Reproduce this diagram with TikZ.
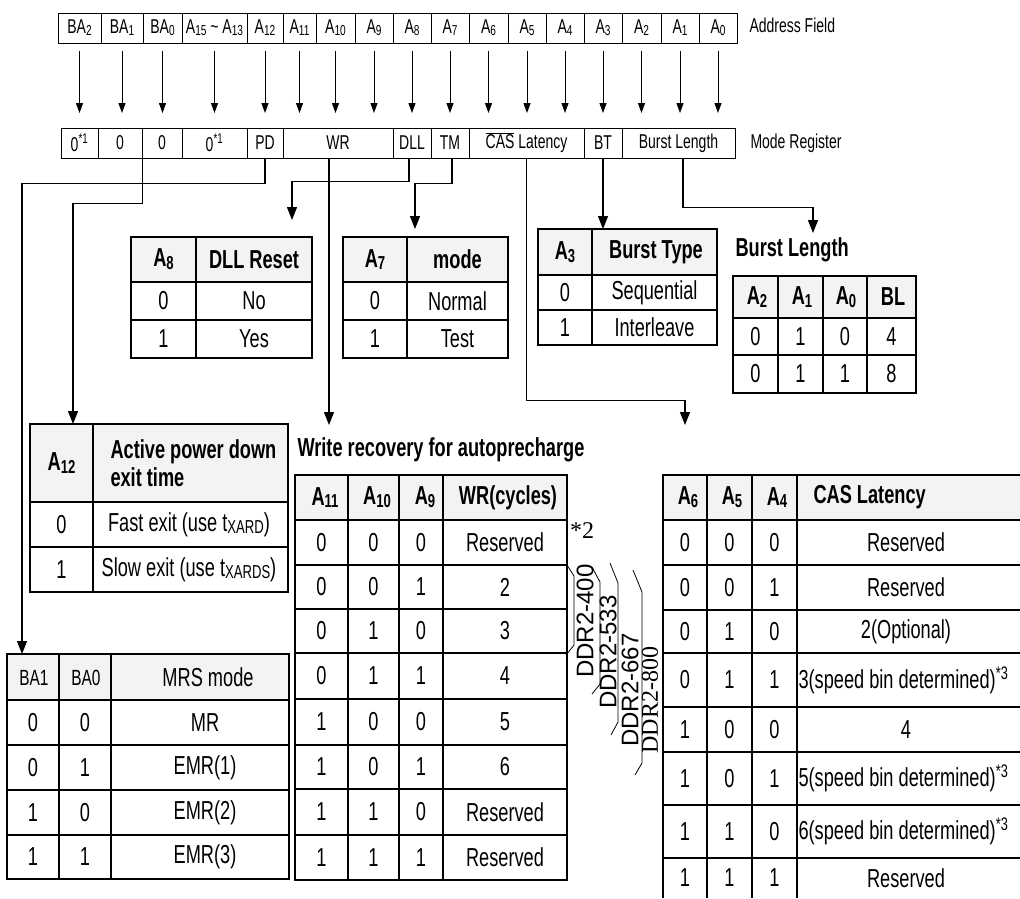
\documentclass[tikz,border=0pt]{standalone}
\usepackage{fontspec}
\setmainfont{Liberation Sans}[FakeStretch=0.70]
\newfontfamily\ddrfont{Liberation Sans}
\newfontfamily\ddrserif{Liberation Serif}
\usetikzlibrary{arrows.meta, positioning}
\definecolor{headfill}{RGB}{243, 243, 243}

% small index digits sitting near the baseline (A8, BA1, tXARD ...)
\newcommand{\lo}[1]{\raisebox{-0.2ex}{\scalebox{0.72}{#1}}}

\tikzset{
    reg/.style={draw, line width=1pt, inner sep=0pt, minimum height=30pt,
        font=\fontsize{20}{22}\selectfont},
    side/.style={anchor=west, inner sep=0pt, font=\fontsize{20}{22}\selectfont},
    tbl/.style={line width=1.3pt},
    cell/.style={inner sep=0pt, font=\fontsize{26}{28}\selectfont},
    hd/.style={inner sep=0pt, font=\fontsize{26}{28}\selectfont\bfseries},
    ddr/.style={rotate=90, inner sep=0pt, font=\ddrfont\fontsize{24}{26}\selectfont},
    bigarrow/.style={line width=1.2pt, -{Triangle[length=13pt, width=10pt]}},
}

\begin{document}
\begin{tikzpicture}[x=1pt, y=-1pt, line width=1pt, >={Triangle[length=10pt, width=7pt]}]

    \useasboundingbox (0,0) rectangle (1020,898);

    % ==========================================
    % --- Address field / mode register rows ---
    % ==========================================
    \foreach \nm/\xa/\xb/\txt in {ba2/58/101/BA\lo{2}, ba1/101/143/BA\lo{1}, ba0/143/182/BA\lo{0},
            ahi/182/247/{A\lo{15} \textasciitilde{} A\lo{13}}, a12/247/283/A\lo{12}, a11/283/316/A\lo{11},
            a10/316/355/A\lo{10}, a9/355/393/A\lo{9}, a8/393/431/A\lo{8}, a7/431/469/A\lo{7},
            a6/469/508/A\lo{6}, a5/508/546/A\lo{5}, a4/546/584/A\lo{4}, a3/584/622/A\lo{3},
            a2/622/661/A\lo{2}, a1/661/699/A\lo{1}, a0/699/737/A\lo{0}}
        \node[reg, minimum width={(\xb-\xa)*1pt}] (\nm) at ({(\xa+\xb)/2}, 28) {\txt};
    \node[side] (addrlbl) at (749, 25) {Address Field};

    \foreach \nm/\xa/\xb/\txt in {mr-ba2/61/98/{0\textsuperscript{*1}}, mr-ba1/98/142/0, mr-ba0/142/182/0,
            mr-ahi/182/247/{0\textsuperscript{*1}}, mr-pd/247/283/PD, mr-wr/283/393/WR,
            mr-dll/393/431/DLL, mr-tm/431/469/TM, mr-cas/469/584/{$\overline{\mbox{CAS}}$ Latency},
            mr-bt/584/622/BT, mr-bl/622/735/Burst Length}
        \node[reg, minimum width={(\xb-\xa)*1pt}] (\nm) at ({(\xa+\xb)/2}, 143) {\txt};
    \node[side] (modelbl) at (750, 143) {Mode Register};

    % one arrow per address bit
    \coordinate (mrtop) at (0, 128);
    \foreach \nm in {ba2, ba1, ba0, ahi, a12, a11, a10, a9, a8, a7, a6, a5, a4, a3, a2, a1, a0}
        \draw[->, shorten <=7pt, shorten >=15pt] (\nm.south) -- (\nm.south |- mrtop);

    % ==========================================
    % --- Connectors down to the tables ---
    % ==========================================
    \coordinate (mrs-in) at (22, 654);
    \coordinate (pd-in) at (73, 424);
    \coordinate (wr-in) at (329, 425);
    \coordinate (dll-in) at (292, 220);
    \coordinate (tm-in) at (415, 229);
    \coordinate (cas-in) at (685, 425);
    \coordinate (bt-in) at (603, 229);
    \coordinate (bl-in) at (813, 233);

    \draw[bigarrow] (mr-pd.south) -- ++(0,25) -| (mrs-in);
    \draw[bigarrow] (mr-ba1.south east) -- ++(0,45) -| (pd-in);
    \draw[bigarrow] ([xshift=-9pt]mr-wr.south) -- (wr-in);
    \draw[bigarrow] ([xshift=-3pt]mr-dll.south) -- ++(0,23) -| (dll-in);
    \draw[bigarrow] ([xshift=2pt]mr-tm.south) -- ++(0,25) -| (tm-in);
    \draw[bigarrow] (mr-cas.south) -- ++(0,242) -| (cas-in);
    \draw[bigarrow] (mr-bt.south) -- (bt-in);
    \draw[bigarrow] ([xshift=4.5pt]mr-bl.south) -- ++(0,49) -| (bl-in);

    % ==========================================
    % --- A8 : DLL reset ---
    % ==========================================
    \fill[headfill] (131,237) rectangle (312,282);
    \draw[tbl] (131,237) rectangle (312,358);
    \foreach \y in {282, 320} \draw[tbl] (131,\y) -- (312,\y);
    \draw[tbl] (196,237) -- (196,358);
    \node[hd] (dll-h1) at (163.5,259.5) {A\lo{8}};
    \node[hd] (dll-h2) at (254,259.5) {DLL Reset};
    \foreach \yc/\a/\b [count=\i] in {301/0/No, 339/1/Yes} {
        \node[cell] (dll-\i-a) at (163.5,\yc) {\a};
        \node[cell] (dll-\i-b) at (254,\yc) {\b};
    }

    % --- A7 : test mode ---
    \fill[headfill] (343,237) rectangle (508,282);
    \draw[tbl] (343,237) rectangle (508,358);
    \foreach \y in {282, 320} \draw[tbl] (343,\y) -- (508,\y);
    \draw[tbl] (407,237) -- (407,358);
    \node[hd] (tm-h1) at (375,259.5) {A\lo{7}};
    \node[hd] (tm-h2) at (457.5,259.5) {mode};
    \foreach \yc/\a/\b [count=\i] in {301/0/Normal, 339/1/Test} {
        \node[cell] (tm-\i-a) at (375,\yc) {\a};
        \node[cell] (tm-\i-b) at (457.5,\yc) {\b};
    }

    % --- A3 : burst type ---
    \fill[headfill] (538,229) rectangle (717,275);
    \draw[tbl] (538,229) rectangle (717,345);
    \foreach \y in {275, 310} \draw[tbl] (538,\y) -- (717,\y);
    \draw[tbl] (592,229) -- (592,345);
    \node[hd] (bt-h1) at (565,252) {A\lo{3}};
    \node[hd] (bt-h2) at (656,252) {Burst Type};
    \foreach \yc/\a/\b [count=\i] in {292.5/0/Sequential, 327.5/1/Interleave} {
        \node[cell] (bt-\i-a) at (565,\yc) {\a};
        \node[cell] (bt-\i-b) at (654.5,\yc) {\b};
    }

    % --- A2..A0 : burst length ---
    \node[hd, anchor=west] (bl-title) at (735,250) {Burst Length};
    \fill[headfill] (733,276) rectangle (916,318);
    \draw[tbl] (733,276) rectangle (916,393);
    \foreach \y in {318, 355} \draw[tbl] (733,\y) -- (916,\y);
    \foreach \x in {778, 823, 867} \draw[tbl] (\x,276) -- (\x,393);
    \foreach \xc/\txt [count=\i] in {757/A\lo{2}, 802/A\lo{1}, 846/A\lo{0}, 893/BL}
        \node[hd] (bl-h\i) at (\xc,297) {\txt};
    \foreach \yc/\a/\b/\c/\d [count=\i] in {336.5/0/1/0/4, 374/0/1/1/8} {
        \node[cell] (bl-\i-a) at (755.5,\yc) {\a};
        \node[cell] (bl-\i-b) at (800.5,\yc) {\b};
        \node[cell] (bl-\i-c) at (845,\yc) {\c};
        \node[cell] (bl-\i-d) at (891.5,\yc) {\d};
    }

    % ==========================================
    % --- A12 : power down exit ---
    % ==========================================
    \fill[headfill] (30,424) rectangle (288,502);
    \draw[tbl] (30,424) rectangle (288,592);
    \foreach \y in {502, 547} \draw[tbl] (30,\y) -- (288,\y);
    \draw[tbl] (93,424) -- (93,592);
    \node[hd] (pd-h1) at (61.5,463) {A\lo{12}};
    \node[hd, anchor=west, align=left] (pd-h2) at (110,463) {Active power down\\exit time};
    \foreach \yc/\a/\b [count=\i] in {524.5/0/{Fast exit (use t\lo{XARD})}, 569.5/1/{Slow exit (use t\lo{XARDS})}} {
        \node[cell] (pd-\i-a) at (61.5,\yc) {\a};
        \node[cell] (pd-\i-b) at (189,\yc) {\b};
    }

    % --- BA1, BA0 : register select ---
    \fill[headfill] (7,654) rectangle (289,700);
    \draw[tbl] (7,654) rectangle (289,879);
    \foreach \y in {700, 745, 790, 835} \draw[tbl] (7,\y) -- (289,\y);
    \foreach \x in {59, 111} \draw[tbl] (\x,654) -- (\x,879);
    \node[cell, font=\fontsize{22}{24}\selectfont] (mrs-h1) at (34,678) {BA1};
    \node[cell, font=\fontsize{22}{24}\selectfont] (mrs-h2) at (86,678) {BA0};
    \node[cell] (mrs-h3) at (208,677) {MRS mode};
    \foreach \yc/\a/\b/\c [count=\i] in {722.5/0/0/MR, 767.5/0/1/EMR(1), 812.5/1/0/EMR(2), 857/1/1/EMR(3)} {
        \node[cell] (mrs-\i-a) at (33,\yc) {\a};
        \node[cell] (mrs-\i-b) at (85,\yc) {\b};
        \node[cell] (mrs-\i-c) at (205,\yc) {\c};
    }

    % ==========================================
    % --- A11..A9 : write recovery ---
    % ==========================================
    \node[hd, anchor=west] (wr-title) at (297,450) {Write recovery for autoprecharge};
    \fill[headfill] (295,475) rectangle (567,520);
    \draw[tbl] (295,475) rectangle (567,880);
    \foreach \y in {520, 565, 609, 653, 699, 745, 789, 835} \draw[tbl] (295,\y) -- (567,\y);
    \foreach \x in {348, 399, 443} \draw[tbl] (\x,475) -- (\x,880);
    \foreach \xc/\txt [count=\i] in {325/A\lo{11}, 377/A\lo{10}, 425/A\lo{9}, 508/WR(cycles)}
        \node[hd] (wr-h\i) at (\xc,497.5) {\txt};
    \foreach \yc/\a/\b/\c/\d [count=\i] in {542.5/0/0/0/Reserved, 587/0/0/1/2, 631/0/1/0/3, 676/0/1/1/4,
            722/1/0/0/5, 767/1/0/1/6, 812/1/1/0/Reserved, 857.5/1/1/1/Reserved} {
        \node[cell] (wr-\i-a) at (321.5,\yc) {\a};
        \node[cell] (wr-\i-b) at (373.5,\yc) {\b};
        \node[cell] (wr-\i-c) at (421,\yc) {\c};
        \node[cell] (wr-\i-d) at (505,\yc) {\d};
    }
    \node[inner sep=0pt, font=\ddrserif\fontsize{24}{26}\selectfont] (wr-note) at (582,531) {*2};

    % speed grade brackets
    \draw[line width=0.8pt] (567,565) -- (574,576) -- (574,645) -- (566,655);
    \draw[line width=0.8pt] (592,567) -- (600,582) -- (600,684) -- (592,694);
    \draw[line width=0.8pt] (610,563) -- (618,583) -- (618,722) -- (611,735);
    \draw[line width=0.8pt] (633,570) -- (642,592) -- (642,763) -- (635,775);
    \node[ddr] (ddr400) at (585,621) {DDR2-400};
    \node[ddr] (ddr533) at (608,652) {DDR2-533};
    \node[ddr] (ddr667) at (630,690) {DDR2-667};
    \node[ddr, font=\ddrserif\fontsize{24}{26}\selectfont] (ddr800) at (650,700) {DDR2-800};

    % ==========================================
    % --- A6..A4 : CAS latency ---
    % ==========================================
    \fill[headfill] (663,475) rectangle (1020,520);
    \draw[tbl] (663,898) -- (663,475) -- (1020,475);
    \foreach \y in {520, 565, 610, 653, 707, 752, 805, 858} \draw[tbl] (663,\y) -- (1020,\y);
    \foreach \x in {707, 752, 797} \draw[tbl] (\x,475) -- (\x,898);
    \foreach \xc/\txt [count=\i] in {688/A\lo{6}, 732/A\lo{5}, 777/A\lo{4}}
        \node[hd] (cas-h\i) at (\xc,497.5) {\txt};
    \node[hd, anchor=west] (cas-h4) at (813,497.5) {CAS Latency};
    \foreach \yc/\a/\b/\c/\d [count=\i] in {542.5/0/0/0/Reserved, 587.5/0/0/1/Reserved,
            631.5/0/1/0/2(Optional), 729.5/1/0/0/4, 878/1/1/1/Reserved} {
        \node[cell] (cas-\i-a) at (685,\yc) {\a};
        \node[cell] (cas-\i-b) at (729.5,\yc) {\b};
        \node[cell] (cas-\i-c) at (774.5,\yc) {\c};
        \node[cell] (cas-\i-d) at (906,\yc) {\d};
    }
    \foreach \yc/\a/\b/\c/\d [count=\i] in {680/0/1/1/3, 778.5/1/0/1/5, 831.5/1/1/0/6} {
        \node[cell] (cas-s\i-a) at (685,\yc) {\a};
        \node[cell] (cas-s\i-b) at (729.5,\yc) {\b};
        \node[cell] (cas-s\i-c) at (774.5,\yc) {\c};
        \node[cell, anchor=west] (cas-s\i-d) at (798,\yc) {\d(speed bin determined)\textsuperscript{*3}};
    }

\end{tikzpicture}
\end{document}
